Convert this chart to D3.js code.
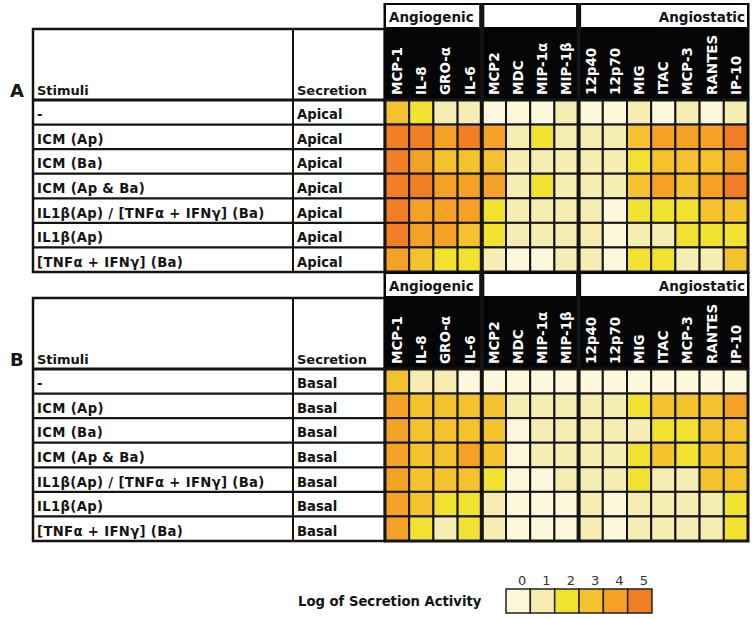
<!DOCTYPE html>
<html>
<head>
<meta charset="utf-8">
<script src="https://cdn.jsdelivr.net/npm/d3@7/dist/d3.min.js"></script>
<style>
  html, body { margin: 0; padding: 0; background: #fff; }
  svg { display: block; font-family: "DejaVu Sans", Verdana, sans-serif; }
</style>
</head>
<body>
<svg id="chart" width="754" height="618"></svg>
<script>
// ---------------- DATA ----------------
const cytokines = ["MCP-1","IL-8","GRO-α","IL-6","MCP2","MDC","MIP-1α","MIP-1β","12p40","12p70","MIG","ITAC","MCP-3","RANTES","IP-10"];
const groupNames = ["Angiogenic", "", "Angiostatic"];
const groupStarts = [0, 4, 8];
const groupEnds = [4, 8, 15];
const stimuli = ["-", "ICM (Ap)", "ICM (Ba)", "ICM (Ap & Ba)", "IL1β(Ap) / [TNFα + IFNγ] (Ba)", "IL1β(Ap)", "[TNFα + IFNγ] (Ba)"];
const panelLetters = ["A", "B"];
const secretionTypes = ["Apical", "Basal"];
// log of secretion activity (0-5), rows = stimuli, columns = cytokines
const apicalValues = [
  [3,2,1,1, 0,0,0,1, 0,0,1,0,1,0,1],
  [5,5,4,5, 4,1,2,1, 1,1,3,4,4,4,5],
  [5,4,3,3, 3,1,1,1, 1,1,2,3,3,3,4],
  [5,5,4,4, 4,1,2,1, 1,1,3,4,3,4,5],
  [5,4,4,4, 2,1,1,1, 1,0,2,2,2,3,3],
  [5,4,4,3, 2,1,1,1, 1,0,1,1,2,2,2],
  [4,3,2,2, 1,0,0,1, 1,0,2,2,1,1,3]
];
const basalValues = [
  [3,1,1,0, 0,0,0,0, 0,0,0,0,0,0,0],
  [4,3,3,3, 3,1,1,1, 1,1,2,3,3,3,4],
  [4,3,3,3, 3,0,1,1, 1,1,1,2,2,3,3],
  [4,3,3,4, 3,0,1,1, 1,1,2,3,2,3,3],
  [4,3,3,3, 2,0,0,1, 1,1,2,1,1,3,3],
  [4,3,2,2, 1,0,0,0, 1,0,1,1,1,1,2],
  [4,2,1,2, 1,0,0,0, 1,0,1,1,1,1,2]
];
const legendLevels = [0,1,2,3,4,5];
const legendTitle = "Log of Secretion Activity";
const headerStimuli = "Stimuli";
const headerSecretion = "Secretion";

// ---------------- STYLE ----------------
const levelColors = ["#fdf7db", "#f6edb2", "#f0e22f", "#f4c22c", "#f4a126", "#f17d24"];
const color = d3.scaleOrdinal().domain(legendLevels).range(levelColors);
const ink = "#141414";

const svg = d3.select("#chart");

const x = d3.scaleBand().domain(cytokines).range([385, 748]);
const xCol0 = 33, xCol1 = 293;

function drawPanel(oy, letter, secretion, values) {
  const g = svg.append("g").attr("transform", `translate(0,${oy})`);
  const y = d3.scaleBand().domain(d3.range(stimuli.length)).range([100, 272]);
  const headTop = 29;

  // panel letter
  g.append("text").attr("x", 10).attr("y", 97)
    .attr("font-size", 18).attr("font-weight", "bold").attr("fill", ink).text(letter);

  // left table
  g.append("rect").attr("x", xCol0).attr("y", headTop)
    .attr("width", x.range()[0] - xCol0).attr("height", y.range()[1] - headTop)
    .attr("fill", "#fff").attr("stroke", ink).attr("stroke-width", 2.5);
  g.append("line").attr("x1", xCol1).attr("x2", xCol1).attr("y1", headTop).attr("y2", y.range()[1])
    .attr("stroke", ink).attr("stroke-width", 2);
  g.selectAll("line.rowline").data(d3.range(stimuli.length)).join("line")
    .attr("x1", xCol0).attr("x2", x.range()[0]).attr("y1", d => y(d)).attr("y2", d => y(d))
    .attr("stroke", ink).attr("stroke-width", d => d === 0 ? 3 : 2.2);

  g.append("text").attr("x", xCol0 + 4).attr("y", y(0) - 5)
    .attr("font-size", 13).attr("font-weight", "bold").attr("fill", ink).text(headerStimuli);
  g.append("text").attr("x", xCol1 + 4).attr("y", y(0) - 5)
    .attr("font-size", 13).attr("font-weight", "bold").attr("fill", ink).text(headerSecretion);

  g.selectAll("text.stim").data(stimuli).join("text")
    .attr("x", xCol0 + 4).attr("y", (d, i) => y(i) + y.bandwidth() / 2 + 7)
    .attr("font-size", 13.2).attr("letter-spacing", 0.35).attr("font-weight", "bold").attr("fill", ink).text(d => d);
  g.selectAll("text.sec").data(stimuli).join("text")
    .attr("x", xCol1 + 4).attr("y", (d, i) => y(i) + y.bandwidth() / 2 + 7)
    .attr("font-size", 13.2).attr("font-weight", "bold").attr("fill", ink).text(secretion);

  // black header with group boxes
  const hx0 = x.range()[0] - 1.5, hx1 = x.range()[1] + 1.5;
  g.append("rect").attr("x", hx0).attr("y", 3).attr("width", hx1 - hx0).attr("height", y.range()[0] - 3)
    .attr("fill", "#050505");
  groupNames.forEach((name, k) => {
    const gx0 = k === 0 ? x(cytokines[groupStarts[k]]) + 1 : x(cytokines[groupStarts[k]]) + 2.5;
    const gx1 = k === groupNames.length - 1 ? x.range()[1] - 1 : x(cytokines[groupEnds[k]]) - 2.5;
    g.append("rect").attr("x", gx0).attr("y", 5).attr("width", gx1 - gx0).attr("height", 22).attr("fill", "#fff");
    if (name) {
      const right = k === groupNames.length - 1;
      g.append("text").attr("x", right ? gx1 - 2 : gx0 + 3).attr("y", 21.5)
        .attr("text-anchor", right ? "end" : "start")
        .attr("font-size", 13.5).attr("font-weight", "bold").attr("fill", ink).text(name);
    }
  });

  // rotated cytokine labels
  g.selectAll("text.cyt").data(cytokines).join("text")
    .attr("transform", d => `translate(${x(d) + x.bandwidth() / 2},${y.range()[0] - 5}) rotate(-90)`)
    .attr("dy", "0.36em")
    .attr("font-size", 13.5).attr("font-weight", "bold").attr("fill", "#fff").text(d => d);

  // cells
  values.forEach((row, i) => {
    g.selectAll(null).data(row).join("rect")
      .attr("x", (v, j) => x(cytokines[j])).attr("y", y(i))
      .attr("width", x.bandwidth()).attr("height", y.bandwidth())
      .attr("fill", v => color(v)).attr("stroke", ink).attr("stroke-width", 2);
  });

  // thick group separators and outer border
  groupStarts.slice(1).forEach(s => {
    g.append("line").attr("x1", x(cytokines[s])).attr("x2", x(cytokines[s]))
      .attr("y1", 3).attr("y2", y.range()[1] + 1).attr("stroke", ink).attr("stroke-width", 4);
  });
  g.append("rect").attr("x", x.range()[0]).attr("y", y.range()[0])
    .attr("width", x.range()[1] - x.range()[0]).attr("height", y.range()[1] - y.range()[0])
    .attr("fill", "none").attr("stroke", ink).attr("stroke-width", 3);
}

drawPanel(0, panelLetters[0], secretionTypes[0], apicalValues);
drawPanel(269, panelLetters[1], secretionTypes[1], basalValues);

// ---------------- LEGEND ----------------
const lx = d3.scaleBand().domain(legendLevels).range([506, 652]);
const lg = svg.append("g");
lg.append("text").attr("x", 298).attr("y", 606)
  .attr("font-size", 13.2).attr("font-weight", "bold").attr("fill", ink).text(legendTitle);
lg.selectAll("rect").data(legendLevels).join("rect")
  .attr("x", d => lx(d)).attr("y", 589).attr("width", lx.bandwidth()).attr("height", 24)
  .attr("fill", d => color(d)).attr("stroke", "#222").attr("stroke-width", 1.5);
lg.selectAll("text.lv").data(legendLevels).join("text")
  .attr("x", d => lx(d) + lx.bandwidth() / 2 + 4).attr("y", 585)
  .attr("text-anchor", "middle").attr("font-size", 13).attr("fill", "#333").text(d => d);
</script>
</body>
</html>
